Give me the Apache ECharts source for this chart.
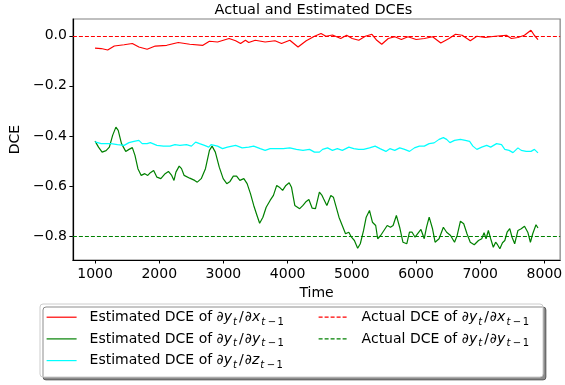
<!DOCTYPE html>
<html>
<head>
<meta charset="utf-8">
<script src="https://cdn.jsdelivr.net/npm/echarts@6/dist/echarts.min.js"></script>
<style>html,body{margin:0;padding:0;background:#fff}#c{width:565px;height:385px}</style>
</head>
<body>
<div id="c"></div>
<script>
const xTicks = [1000, 2000, 3000, 4000, 5000, 6000, 7000, 8000];
const yTicks = [-0.8, -0.6, -0.4, -0.2, 0.0];
const actualValues = [0.0, -0.8];

const estX = [[1000,-0.049],[1095,-0.051],[1197,-0.057],[1300,-0.041],[1453,-0.036],[1581,-0.031],[1683,-0.045],[1811,-0.054],[1938,-0.041],[2117,-0.038],[2296,-0.027],[2475,-0.034],[2680,-0.038],[2782,-0.022],[2909,-0.025],[3088,-0.011],[3190,-0.020],[3267,-0.031],[3343,-0.018],[3394,-0.027],[3496,-0.018],[3650,-0.025],[3803,-0.020],[3905,-0.031],[4034,-0.018],[4162,-0.045],[4290,-0.020],[4418,-0.002],[4520,0.009],[4597,-0.002],[4699,0.003],[4827,-0.011],[4919,0.002],[5006,-0.011],[5108,-0.018],[5210,-0.002],[5313,0.006],[5389,-0.018],[5466,-0.034],[5568,-0.011],[5670,-0.004],[5772,-0.015],[5875,-0.004],[6002,-0.015],[6130,-0.011],[6258,-0.004],[6386,-0.029],[6514,-0.011],[6616,0.006],[6718,0.002],[6846,-0.020],[6948,-0.002],[7076,-0.007],[7229,-0.002],[7408,0.002],[7485,-0.011],[7587,-0.007],[7689,0.002],[7791,0.022],[7842,0.002],[7900,-0.015]];

const estY = [[1000,-0.421],[1054,-0.445],[1110,-0.465],[1172,-0.459],[1223,-0.445],[1274,-0.398],[1325,-0.365],[1361,-0.378],[1412,-0.431],[1478,-0.462],[1529,-0.454],[1581,-0.447],[1622,-0.478],[1668,-0.531],[1719,-0.558],[1775,-0.551],[1821,-0.558],[1862,-0.547],[1913,-0.538],[1964,-0.565],[2025,-0.571],[2092,-0.551],[2143,-0.542],[2194,-0.558],[2230,-0.578],[2260,-0.545],[2311,-0.521],[2347,-0.531],[2388,-0.558],[2475,-0.569],[2552,-0.578],[2593,-0.585],[2654,-0.571],[2720,-0.531],[2782,-0.458],[2823,-0.441],[2874,-0.465],[2935,-0.525],[2996,-0.571],[3052,-0.591],[3103,-0.582],[3154,-0.561],[3205,-0.561],[3256,-0.578],[3318,-0.571],[3369,-0.591],[3421,-0.631],[3472,-0.678],[3523,-0.718],[3564,-0.749],[3615,-0.725],[3666,-0.685],[3727,-0.658],[3779,-0.638],[3830,-0.598],[3871,-0.605],[3922,-0.618],[3973,-0.598],[4024,-0.587],[4060,-0.605],[4112,-0.678],[4188,-0.691],[4239,-0.678],[4290,-0.662],[4331,-0.654],[4383,-0.689],[4434,-0.691],[4495,-0.625],[4536,-0.638],[4560,-0.651],[4611,-0.678],[4673,-0.638],[4713,-0.645],[4749,-0.678],[4800,-0.725],[4851,-0.758],[4902,-0.791],[4953,-0.785],[4995,-0.805],[5040,-0.818],[5091,-0.849],[5132,-0.831],[5183,-0.778],[5224,-0.725],[5275,-0.698],[5321,-0.745],[5372,-0.758],[5403,-0.811],[5449,-0.798],[5490,-0.782],[5551,-0.758],[5602,-0.765],[5643,-0.758],[5694,-0.718],[5745,-0.765],[5796,-0.825],[5857,-0.831],[5898,-0.785],[5939,-0.785],[5985,-0.805],[6026,-0.791],[6077,-0.774],[6128,-0.811],[6164,-0.765],[6205,-0.725],[6256,-0.770],[6297,-0.825],[6359,-0.811],[6426,-0.765],[6477,-0.785],[6538,-0.798],[6600,-0.825],[6641,-0.798],[6692,-0.741],[6743,-0.751],[6794,-0.791],[6845,-0.825],[6907,-0.835],[6973,-0.818],[7024,-0.811],[7060,-0.787],[7091,-0.811],[7127,-0.778],[7163,-0.811],[7204,-0.845],[7240,-0.825],[7270,-0.835],[7306,-0.851],[7347,-0.827],[7383,-0.818],[7419,-0.785],[7460,-0.771],[7496,-0.805],[7537,-0.831],[7588,-0.778],[7639,-0.771],[7690,-0.761],[7741,-0.785],[7782,-0.825],[7818,-0.791],[7869,-0.755],[7900,-0.768]];

const estZ = [[1000,-0.424],[1095,-0.431],[1248,-0.431],[1350,-0.435],[1453,-0.438],[1529,-0.427],[1606,-0.422],[1683,-0.418],[1734,-0.431],[1811,-0.431],[1862,-0.427],[1964,-0.438],[2066,-0.441],[2168,-0.441],[2245,-0.435],[2322,-0.438],[2424,-0.435],[2501,-0.441],[2567,-0.425],[2628,-0.431],[2705,-0.438],[2771,-0.445],[2807,-0.435],[2909,-0.441],[2986,-0.451],[3062,-0.445],[3190,-0.438],[3292,-0.448],[3394,-0.445],[3471,-0.441],[3574,-0.451],[3650,-0.458],[3727,-0.451],[3830,-0.451],[3932,-0.451],[4034,-0.448],[4136,-0.454],[4239,-0.458],[4341,-0.454],[4418,-0.465],[4495,-0.465],[4545,-0.454],[4622,-0.448],[4698,-0.458],[4775,-0.451],[4852,-0.458],[4954,-0.445],[5030,-0.451],[5107,-0.454],[5184,-0.454],[5276,-0.448],[5363,-0.441],[5439,-0.451],[5531,-0.462],[5592,-0.451],[5669,-0.458],[5746,-0.448],[5822,-0.454],[5899,-0.462],[5975,-0.448],[6052,-0.441],[6129,-0.441],[6205,-0.431],[6282,-0.428],[6359,-0.414],[6426,-0.407],[6477,-0.414],[6528,-0.427],[6600,-0.418],[6692,-0.414],[6768,-0.418],[6835,-0.422],[6886,-0.441],[6948,-0.454],[7024,-0.445],[7101,-0.438],[7163,-0.445],[7255,-0.431],[7332,-0.435],[7383,-0.454],[7450,-0.458],[7511,-0.467],[7588,-0.448],[7639,-0.458],[7716,-0.462],[7792,-0.462],[7844,-0.454],[7900,-0.468]];

const names = [
  'Estimated DCE of ∂yt/∂xt−1',
  'Estimated DCE of ∂yt/∂yt−1',
  'Estimated DCE of ∂yt/∂zt−1',
  'Actual DCE of ∂yt/∂xt−1',
  'Actual DCE of ∂yt/∂yt−1'
];
const richLabels = {
  [names[0]]: '{p|Estimated DCE of }{i|∂y}{si|t}{n|/}{i|∂x}{si|t}{m|−}{s|1}',
  [names[1]]: '{p|Estimated DCE of }{i|∂y}{si|t}{n|/}{i|∂y}{si|t}{m|−}{s|1}',
  [names[2]]: '{p|Estimated DCE of }{i|∂y}{si|t}{n|/}{i|∂z}{si|t}{m|−}{s|1}',
  [names[3]]: '{p|Actual DCE of }{i|∂y}{si|t}{n|/}{i|∂x}{si|t}{m|−}{s|1}',
  [names[4]]: '{p|Actual DCE of }{i|∂y}{si|t}{n|/}{i|∂y}{si|t}{m|−}{s|1}'
};

const FONT = 'DejaVu Sans';
const chart = echarts.init(document.getElementById('c'), null, {renderer: 'canvas'});

function lineSeries(name, data, color) {
  return {
    name: name, type: 'line', data: data, showSymbol: false, symbol: 'none',
    lineStyle: {color: color, width: 1.2}, itemStyle: {color: color},
    silent: true, z: 3
  };
}
function actualSeries(name, value, color) {
  return {
    name: name, type: 'line', data: [], symbol: 'none',
    lineStyle: {color: color, width: 1.2, type: [4, 2]}, itemStyle: {color: color},
    markLine: {
      silent: true, symbol: ['none', 'none'], label: {show: false},
      lineStyle: {color: color, width: 1.2, type: [4, 2]},
      data: [{yAxis: value}], animation: false
    },
    z: 4
  };
}

const rich = {
  p: {fontFamily: FONT, fontSize: 14, color: '#000', lineHeight: 20, padding: [0, 0, 0, 8]},
  n: {fontFamily: FONT, fontSize: 14, color: '#000', lineHeight: 20, padding: [0, 1, 0, 1]},
  i: {fontFamily: FONT, fontSize: 14, fontStyle: 'italic', color: '#000', lineHeight: 20, padding: [0, 0.5, 0, 0]},
  si: {fontFamily: FONT, fontSize: 10, fontStyle: 'italic', color: '#000', lineHeight: 10, verticalAlign: 'bottom', padding: [0, 1, 0, 0.5]},
  m: {fontFamily: FONT, fontSize: 10, color: '#000', lineHeight: 10, verticalAlign: 'bottom', padding: [0, 1.5, 0, 1.5]},
  s: {fontFamily: FONT, fontSize: 10, color: '#000', lineHeight: 10, verticalAlign: 'bottom'}
};

function legendBlock(left, data) {
  return {
    orient: 'vertical', left: left, top: 306,
    padding: [4, 0, 4, 6], itemGap: 4.5, itemWidth: 30, itemHeight: 18,
    z: 10, selectedMode: false,
    itemStyle: {opacity: 0, borderWidth: 0},
    lineStyle: {width: 1.2},
    textStyle: {fontFamily: FONT, fontSize: 14, color: '#000', rich: rich},
    formatter: n => richLabels[n],
    data: data
  };
}

const option = {
  animation: false,
  backgroundColor: '#fff',
  grid: {left: 66, right: 4, top: 19, bottom: 125, show: true, borderColor: '#808080', borderWidth: 1.2, backgroundColor: 'transparent'},
  graphic: [
    {type: 'text', x: 313.5, y: 10, style: {text: 'Actual and Estimated DCEs', fontFamily: FONT, fontSize: 14.5, fill: '#000', align: 'center', verticalAlign: 'middle'}, z: 10},
    {type: 'rect', x: 40, y: 304, shape: {width: 503, height: 73, r: 3}, style: {fill: '#fff', stroke: '#cccccc', lineWidth: 1, shadowColor: 'rgba(0,0,0,0.45)', shadowOffsetX: 3, shadowOffsetY: 3, shadowBlur: 0}, z: 1}
  ],
  xAxis: {
    type: 'value', min: 655, max: 8245,
    name: 'Time', nameLocation: 'middle', nameGap: 25,
    nameTextStyle: {fontFamily: FONT, fontSize: 14, color: '#000'},
    axisLine: {show: true, onZero: false, lineStyle: {color: '#000', width: 1.2}},
    axisTick: {show: true, length: 3.5, customValues: xTicks, lineStyle: {color: '#000', width: 1}},
    axisLabel: {customValues: xTicks, fontFamily: FONT, fontSize: 14, color: '#000', margin: 7, formatter: v => String(v)},
    splitLine: {show: false}
  },
  yAxis: {
    type: 'value', min: -0.896, max: 0.067,
    name: 'DCE', nameLocation: 'middle', nameGap: 44,
    nameTextStyle: {fontFamily: FONT, fontSize: 14, color: '#000'},
    axisLine: {show: true, onZero: false, lineStyle: {color: '#000', width: 1.2}},
    axisTick: {show: true, length: 3.5, customValues: yTicks, lineStyle: {color: '#000', width: 1}},
    axisLabel: {customValues: yTicks, fontFamily: FONT, fontSize: 14, color: '#000', margin: 6,
      formatter: v => (v < -1e-9 ? '\u2212' : '') + Math.abs(v).toFixed(1)},
    splitLine: {show: false}
  },
  legend: [
    legendBlock(40, [names[0], names[1], names[2]]),
    legendBlock(312, [names[3], names[4]])
  ],
  series: [
    lineSeries(names[0], estX, '#ff0000'),
    lineSeries(names[1], estY, '#008000'),
    lineSeries(names[2], estZ, '#00ffff'),
    actualSeries(names[3], actualValues[0], '#ff0000'),
    actualSeries(names[4], actualValues[1], '#008000')
  ]
};
chart.setOption(option);
</script>
</body>
</html>
